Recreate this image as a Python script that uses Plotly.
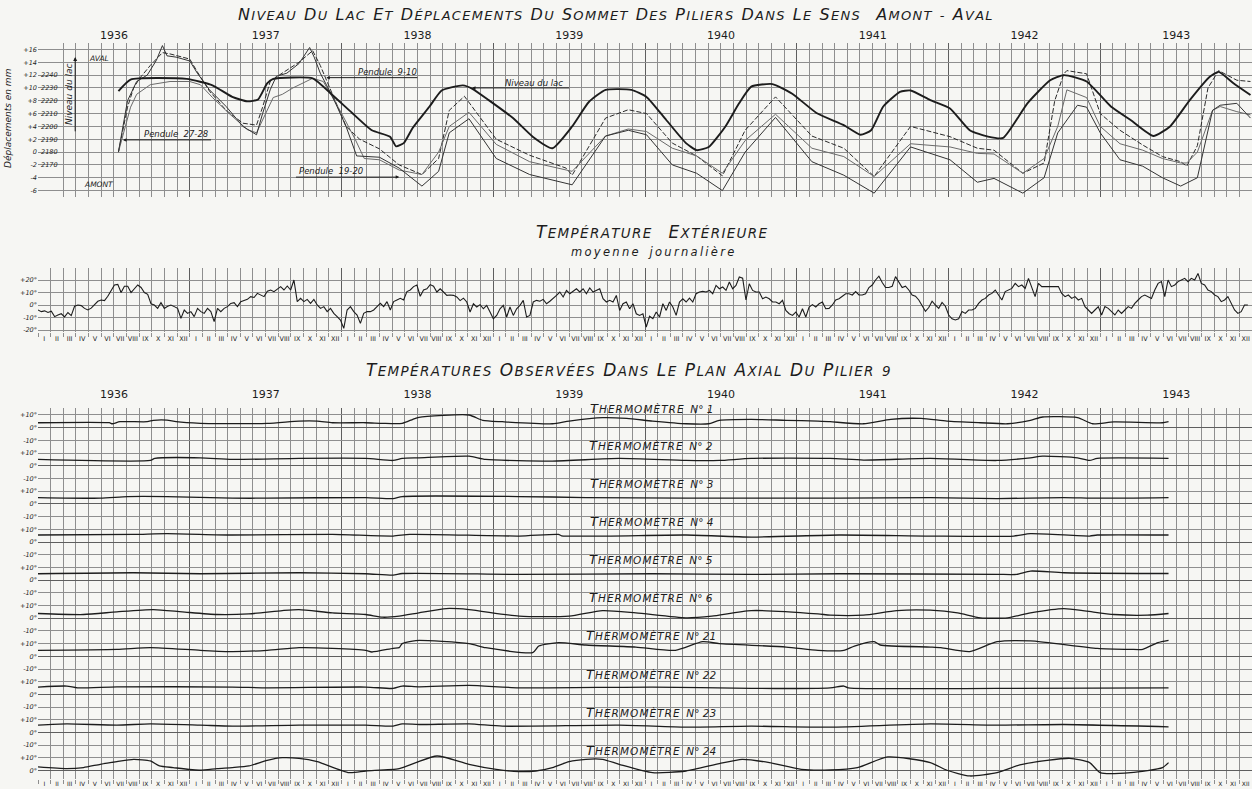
import plotly.graph_objects as go

# ------------------------------------------------------------------ data
YEARS = [1936, 1937, 1938, 1939, 1940, 1941, 1942, 1943]
MONTHS_ROMAN = ["I", "II", "III", "IV", "V", "VI", "VII", "VIII", "IX", "X", "XI", "XII"]

# Lake level (m) - decimal year
LAKE_T = [1936.53, 1936.61, 1936.98, 1937.15, 1937.28, 1937.38, 1937.45, 1937.51, 1937.55, 1937.81,
          1937.94, 1938.07, 1938.20, 1938.32, 1938.36, 1938.41, 1938.47, 1938.58, 1938.66, 1938.80,
          1938.86, 1938.97, 1939.13, 1939.26, 1939.39, 1939.52, 1939.63, 1939.74, 1939.91, 1940.01,
          1940.14, 1940.27, 1940.34, 1940.42, 1940.53, 1940.62, 1940.70, 1940.84, 1940.97, 1941.13,
          1941.31, 1941.42, 1941.49, 1941.57, 1941.68, 1941.75, 1941.88, 1942.01, 1942.14, 1942.26,
          1942.36, 1942.52, 1942.67, 1942.76, 1942.91, 1943.07, 1943.20, 1943.35, 1943.46, 1943.59,
          1943.72, 1943.78, 1943.88, 1943.99]
LAKE_LEVEL = [2227.5, 2236.5, 2237, 2232, 2223, 2219.5, 2221, 2233.5, 2237, 2237.5,
              2224.5, 2210.5, 2197, 2192, 2184.5, 2187, 2199, 2215.5, 2228, 2232,
              2229.5, 2220.5, 2206.5, 2192, 2183, 2200, 2219, 2228.5, 2228.5, 2223,
              2205, 2187, 2181.5, 2184, 2200, 2218, 2231, 2233, 2225.5, 2210.5,
              2201, 2193.5, 2197, 2215.5, 2227, 2228, 2220.5, 2214, 2197, 2192,
              2191, 2218, 2236, 2240, 2235, 2215.5, 2205, 2192.5, 2200, 2220.5,
              2238.5, 2242.5, 2233.5, 2224.5]

# Pendulum displacements (mm)
P910_T = [1936.53, 1936.59, 1936.63, 1936.67, 1936.74, 1936.82, 1936.87, 1937.00, 1937.05, 1937.13,
          1937.24, 1937.35, 1937.44, 1937.48, 1937.53, 1937.59, 1937.72, 1937.81, 1937.86, 1937.94,
          1938.03, 1938.12, 1938.25, 1938.38, 1938.53, 1938.64, 1938.71, 1938.81, 1939.02, 1939.24,
          1939.48, 1939.52, 1939.74, 1939.89, 1940.01, 1940.18, 1940.34, 1940.51, 1940.66, 1940.86,
          1941.10, 1941.31, 1941.51, 1941.75, 1942.01, 1942.19, 1942.30, 1942.49, 1942.63, 1942.70,
          1942.76, 1942.78, 1942.91, 1943.00, 1943.13, 1943.28, 1943.41, 1943.53, 1943.57, 1943.64,
          1943.71, 1943.78, 1943.90, 1943.99]
P910_MM = [0, 7, 10, 11.5, 13.5, 15.5, 15.3, 14.5, 12.5, 9.5,
           6.5, 4.5, 4.2, 7, 11, 12, 14, 15.8, 13.5, 9,
           4, 2, 0.5, -2, -3.5, -1, 6.5, 8.7, 2.0, -0.5,
           -2.5, -3.6, 5.3, 6.6, 6.0, 1.4, -0.6, -3.7, 3.4, 8.6,
           2.5, 0.6, -3.8, 4.0, 2.4, 0.6, 0.3, -3.3, -1.7, 8,
           12.2, 12.7, 12.2, 6, 3.4, 1.1, -0.7, -1.5, -2.2, 1,
           10, 12.7, 11.2, 11]

P2728_T = [1936.53, 1936.61, 1936.65, 1936.74, 1936.87, 1937.00, 1937.07, 1937.15, 1937.26, 1937.38,
           1937.44, 1937.48, 1937.55, 1937.61, 1937.68, 1937.81, 1937.88, 1937.99, 1938.09, 1938.15,
           1938.25, 1938.38, 1938.53, 1938.64, 1938.71, 1938.84, 1939.02, 1939.24, 1939.52, 1939.74,
           1939.89, 1940.01, 1940.18, 1940.34, 1940.51, 1940.66, 1940.86, 1941.10, 1941.31, 1941.51,
           1941.75, 1942.01, 1942.19, 1942.30, 1942.49, 1942.63, 1942.72, 1942.78, 1942.91, 1943.00,
           1943.13, 1943.28, 1943.41, 1943.53, 1943.57, 1943.64, 1943.74, 1943.79, 1943.90, 1943.99]
P2728_MM = [0, 7, 9, 10.5, 11, 11, 10.5, 8.5, 6, 3.5,
            3, 5, 8.5, 9, 10, 11.5, 11, 6.5, 2, -1,
            -1.2, -2.8, -3.5, 0, 4, 6.2, 1.2, -1.5, -3.0, 2.5,
            3.6, 3.2, 0.6, -0.6, -3.3, 1.8, 5.9, 0.6, -0.7, -3.8,
            1.3, 0.8, -0.2, -0.3, -3.3, -1, 4, 9.7, 8.5, 4,
            1.3, 0.3, -1, -1.7, -1.7, 0, 6.5, 7.1, 6.3, 5.8]

P1920_T = [1936.53, 1936.59, 1936.65, 1936.72, 1936.78, 1936.82, 1936.85, 1936.91, 1937.00, 1937.05,
           1937.13, 1937.24, 1937.35, 1937.44, 1937.48, 1937.53, 1937.57, 1937.64, 1937.72, 1937.79,
           1937.82, 1937.86, 1937.94, 1938.03, 1938.10, 1938.25, 1938.38, 1938.53, 1938.64, 1938.71,
           1938.84, 1939.02, 1939.24, 1939.52, 1939.74, 1939.89, 1940.01, 1940.18, 1940.34, 1940.51,
           1940.66, 1940.86, 1941.10, 1941.31, 1941.51, 1941.75, 1942.01, 1942.19, 1942.30, 1942.49,
           1942.63, 1942.72, 1942.85, 1942.91, 1943.00, 1943.13, 1943.28, 1943.41, 1943.53, 1943.64,
           1943.74, 1943.79, 1943.90, 1943.99]
P1920_MM = [0, 8, 11, 12, 14.3, 16.6, 15, 14.8, 14.2, 12.3,
            9.7, 7.1, 4, 2.7, 6, 9.7, 11.8, 12.3, 13.8, 16.3,
            14.8, 12.3, 8.7, 4, -0.6, -0.8, -2.5, -5.3, -3, 3,
            5.2, -1, -3.5, -5.1, 2.5, 3.4, 2.7, -2, -3.3, -6.0,
            0, 5.4, -1.5, -3.6, -6.4, 0.8, -1.2, -4.7, -4.1, -6.4,
            -4, 3, 7.3, 7.0, 3, -1.2, -2.2, -4, -5.3, -4,
            6.5, 7.3, 7.6, 5.3]

# Outside temperature, one reading every 8 days from 1 Jan 1936 (deg C)
TEMP_START = 1936.0
TEMP_STEP_DAYS = 8
TEMP_EXT = [
    -4, -5.3, -4.7, -6, -5, -9.3, -8, -7, -9.5, -6,
    -8.5, -1, 0, -0.5, -2.7, -4, -2.5, 0, 3, 4,
    3.5, 7, 12, 16, 16.5, 10, 15, 15, 10, 13,
    16, 14, 10, 8.5, 1, 0, -2.7, 1.9, -2.7, -1,
    0, -1.3, -2.7, -10.7, -4, -6.7, -5.3, -9.3, -2.7, -5.3,
    -6.7, -2.7, -5.3, -13.3, -2.7, -5.3, -2.7, -1.3, 1.3, 1.9,
    -1.3, 2.7, 3.5, 4.5, 6.7, 6, 9.3, 8, 6.7, 11,
    12, 10.7, 12.5, 14.7, 12, 15.2, 12, 20, 2.7, 5.3,
    2.7, 4.5, 1.3, 4.5, 0, -2.7, -1.3, -5.3, -2.7, -6.7,
    -9.3, -12, -18.7, -4, -1.3, -5.3, -8, -14.7, -6.7, -5.3,
    -5.3, -4, -1.3, 1.3, -1.3, 2.7, -4, 2.7, 4, 5.3,
    4, 10.7, 12, 14.7, 16,
    7, 12, 13, 16.3, 15, 10.4, 13, 10.4, 7.7, 8,
    7.7, 6.4, 3.5, 5.5, 2.4, -5.6, 1, -1.6, 0.3, -3,
    -0.3, -5.6, -11, -8.3, -3, -0.3, -9.6, -1.6, -8.3, -3,
    -0.3, 3.7, -9.6, -8.3, 2.4, 3.7, 3, 4.5, 1, 3,
    5, 7.7, 10.4, 6.4, 11.7, 9, 11, 13, 10.4, 13,
    9, 13.6, 10.4, 11.7, 13, 5, 2.4, 3.7, 2.4, 7.7,
    -4.3, 1, 2.4, -3, 1, -7, -8.3, -7, -17.6, -9,
    -11, -5.6, -9.6, 1, -4.3, 2.4, -1.6, -8.3, 2.4, 5,
    2.4, 5.5, 2.4, 9, 10.4, 11, 10.4, 11.7, 9, 15.7,
    13, 14.4, 11.7, 18.4, 13, 15.7, 22.4, 21.5, 4, 17,
    11.7, 10.4, 10.4, 5, 6.4, 5, 2.4, 2.4, 1, 3.7,
    -4.3, -7, -8.3, -5.6, -9.6, -3, -9.6, -1.6, 0.3, -1.6,
    1, 2.4, -3,
    -2.7, 0, 4, 5, 7, 9, 9, 8, 10.7, 8,
    8, 9, 14, 16, 20, 23, 18, 14, 14, 15,
    22.7, 18, 14, 15, 12, 8, 7, 4, 0, -5,
    -2, 3, 0, -2.7, 2, -1, -8, -11, -12, -11,
    -5.3, -6.7, -4, -4, -2.7, 1.3, 4, 5.3, 8, 9.3,
    12, 8, 4, 10.7, 12, 13.3, 17.3, 14.7, 16, 13.3,
    21.3, 14.7, 6.7, 17.3, 14.7, 14.7, 14.7, 14.7, 14.7, 14.7,
    9.3, 6.7, 8, 5.3, 6.7, 4, 5.3, -1.3, -4, -6.7,
    -4, -1.3, -8, -1.3, -2.7, -5.3, -8, -4, -6.7, -4,
    -1.3, -2.7, 1.3, 4, 6.7, 8, 6.7, 5.3, 12, 17.3,
    18.7, 6.7, 20, 14.7, 16, 18.7, 20, 21.3, 18.7, 21.3,
    20, 25.3, 17.3, 16, 12, 10.7, 8, 6.7, 2.7, 4,
    6.7, 1.3, -4, -6.7, -5.3, 0, 0,
]

# Temperatures in the axial plane of pier 9 (deg C)
THERMO_NAMES = ["1", "2", "3", "4", "5", "6", "21", "22", "23", "24"]
TH1_T = [1936.00, 1936.47, 1936.49, 1936.54, 1936.72, 1936.76, 1936.85, 1936.91, 1937.07, 1937.51,
         1937.72, 1937.84, 1937.94, 1938.16, 1938.27, 1938.40, 1938.47, 1938.51, 1938.84, 1938.93,
         1939.06, 1939.39, 1939.50, 1939.72, 1939.88, 1940.05, 1940.27, 1940.42, 1940.49, 1940.70,
         1940.93, 1941.14, 1941.22, 1941.44, 1941.62, 1941.82, 1941.99, 1942.21, 1942.39, 1942.54,
         1942.62, 1942.85, 1942.95, 1943.09, 1943.41, 1943.45]
TH1_C = [3.9, 3.9, 3.1, 4.7, 4.7, 5.8, 6.0, 4.7, 3.4, 3.4,
         5.2, 5.2, 3.9, 3.9, 3.4, 3.4, 6.6, 8.2, 10.0, 5.8,
         4.7, 3.1, 5.2, 7.9, 7.3, 5.2, 3.1, 3.1, 5.8, 6.6,
         5.8, 5.2, 4.7, 3.1, 6.6, 7.3, 5.2, 3.9, 3.1, 5.8,
         8.4, 7.9, 3.1, 4.5, 3.9, 4.7]
TH2_T = [1936.00, 1936.74, 1936.77, 1937.07, 1937.28, 1937.72, 1938.16, 1938.34, 1938.40, 1938.51,
         1938.84, 1938.95, 1939.39, 1939.83, 1940.27, 1940.49, 1940.70, 1941.22, 1941.44, 1941.88,
         1942.32, 1942.54, 1942.62, 1942.85, 1942.93, 1942.98, 1943.45]
TH2_C = [5.0, 4.2, 5.8, 6.3, 5.0, 5.8, 5.8, 4.2, 5.8, 6.3,
         7.6, 5.0, 3.7, 5.8, 4.2, 4.2, 5.8, 5.8, 4.5, 5.8,
         4.2, 6.3, 7.6, 6.3, 4.2, 5.8, 5.8]
TH3_T = [1936.00, 1936.41, 1936.59, 1936.85, 1937.28, 1937.51, 1938.16, 1938.34, 1938.40, 1939.17,
         1939.61, 1940.27, 1940.70, 1941.28, 1941.88, 1942.32, 1942.76, 1942.98, 1943.45]
TH3_C = [5.0, 4.5, 5.8, 5.8, 4.5, 4.5, 5.0, 4.2, 5.8, 5.8,
         5.0, 4.5, 4.5, 4.5, 5.0, 4.2, 5.0, 4.5, 5.0]
TH4_T = [1936.00, 1936.63, 1936.85, 1937.28, 1937.94, 1938.34, 1938.45, 1939.17, 1939.43, 1939.45,
         1940.27, 1940.70, 1941.28, 1941.88, 1942.43, 1942.54, 1942.93, 1942.98, 1943.45]
TH4_C = [5.5, 6.0, 6.6, 5.5, 6.0, 4.7, 6.0, 4.7, 6.0, 4.9,
         5.5, 3.9, 5.5, 4.7, 4.7, 6.6, 4.7, 5.5, 5.5]
TH5_T = [1936.00, 1936.63, 1937.07, 1937.72, 1938.16, 1938.34, 1938.40, 1939.17, 1940.05, 1940.70,
         1941.28, 1942.32, 1942.45, 1942.54, 1942.76, 1943.45]
TH5_C = [5.0, 5.8, 5.0, 5.8, 5.0, 3.9, 5.2, 4.5, 5.0, 4.5,
         5.0, 4.5, 4.5, 7.1, 5.8, 5.2]
TH6_T = [1936.00, 1936.30, 1936.52, 1936.76, 1936.95, 1937.18, 1937.39, 1937.61, 1937.72, 1937.94,
         1938.16, 1938.27, 1938.38, 1938.51, 1938.69, 1938.84, 1939.17, 1939.50, 1939.72, 1939.94,
         1940.27, 1940.44, 1940.70, 1941.14, 1941.22, 1941.44, 1941.66, 1941.88, 1942.06, 1942.21,
         1942.39, 1942.54, 1942.76, 1942.91, 1943.09, 1943.31, 1943.45]
TH6_C = [3.7, 2.9, 5.0, 6.8, 5.0, 2.9, 3.4, 6.0, 6.8, 4.2,
         2.9, 0.8, 1.6, 4.2, 7.6, 6.8, 1.6, 1.6, 6.0, 4.2,
         0.3, 1.6, 6.0, 3.4, 2.4, 2.4, 6.0, 6.3, 4.2, 0.3,
         0.3, 4.2, 7.6, 5.5, 2.9, 2.4, 3.7]
TH21_T = [1936.00, 1936.52, 1936.74, 1937.07, 1937.28, 1937.51, 1937.72, 1937.94, 1938.16, 1938.20,
          1938.34, 1938.38, 1938.40, 1938.49, 1938.84, 1938.95, 1939.26, 1939.30, 1939.43, 1939.61,
          1939.94, 1940.20, 1940.38, 1940.49, 1940.93, 1941.14, 1941.31, 1941.38, 1941.51, 1941.55,
          1941.88, 1941.95, 1942.14, 1942.32, 1942.54, 1942.98, 1943.20, 1943.28, 1943.38, 1943.45]
TH21_C = [4.7, 5.5, 6.8, 4.7, 3.7, 4.7, 6.8, 6.3, 4.7, 3.4,
          6.3, 6.8, 10.0, 12.4, 10.0, 6.8, 2.9, 8.1, 10.8, 8.9,
          7.3, 4.7, 11.5, 10.0, 7.3, 4.7, 4.7, 8.1, 11.5, 8.9,
          7.3, 6.8, 3.7, 11.5, 12.1, 6.3, 5.5, 5.5, 10.8, 12.6]
TH22_T = [1936.00, 1936.19, 1936.26, 1936.52, 1937.28, 1937.51, 1938.16, 1938.34, 1938.40, 1938.51,
          1938.84, 1939.17, 1940.05, 1940.70, 1941.22, 1941.31, 1941.34, 1942.32, 1943.45]
TH22_C = [5.8, 6.6, 5.2, 6.0, 5.8, 5.2, 5.8, 4.7, 6.6, 6.0,
          7.1, 5.2, 5.8, 4.7, 5.2, 6.6, 5.2, 4.7, 5.2]
TH23_T = [1936.00, 1936.19, 1936.52, 1936.74, 1937.07, 1937.28, 1937.72, 1938.16, 1938.34, 1938.40,
          1938.51, 1938.84, 1939.06, 1939.83, 1940.27, 1940.70, 1941.22, 1941.88, 1942.32, 1942.76,
          1943.45]
TH23_C = [5.8, 6.8, 5.8, 6.8, 5.8, 5.0, 5.8, 5.8, 5.0, 6.8,
          6.3, 6.8, 5.0, 5.8, 4.2, 5.0, 4.2, 6.8, 5.8, 6.3,
          4.5]
TH24_T = [1936.00, 1936.19, 1936.30, 1936.41, 1936.52, 1936.63, 1936.74, 1936.80, 1936.89, 1937.07,
          1937.18, 1937.28, 1937.39, 1937.51, 1937.61, 1937.72, 1937.84, 1938.05, 1938.16, 1938.38,
          1938.49, 1938.63, 1938.84, 1939.02, 1939.17, 1939.28, 1939.39, 1939.50, 1939.61, 1939.72,
          1939.83, 1940.05, 1940.27, 1940.49, 1940.64, 1940.82, 1941.03, 1941.22, 1941.40, 1941.60,
          1941.88, 1941.99, 1942.14, 1942.32, 1942.47, 1942.65, 1942.80, 1942.93, 1943.00, 1943.20,
          1943.41, 1943.45]
TH24_C = [2.9, 1.6, 2.4, 5.0, 7.1, 8.9, 7.6, 3.7, 2.4, 0.3,
          1.6, 2.4, 3.7, 8.1, 10.2, 9.7, 7.1, -1.6, -0.3, 1.6,
          6.3, 11.5, 5.0, 1.0, -0.8, -0.3, 2.4, 7.1, 8.9, 8.9,
          5.0, -1.6, -0.3, 5.5, 8.9, 6.3, 1.0, 0.5, 2.4, 10.8,
          6.3, 0.3, -4.2, -1.6, 4.5, 8.1, 9.7, 6.3, -1.6, -1.6,
          2.4, 6.3]
THERMO_T = [TH1_T, TH2_T, TH3_T, TH4_T, TH5_T, TH6_T, TH21_T, TH22_T, TH23_T, TH24_T]
THERMO_C = [TH1_C, TH2_C, TH3_C, TH4_C, TH5_C, TH6_C, TH21_C, TH22_C, TH23_C, TH24_C]

# ------------------------------------------------------------------ style / layout helpers
W, H = 1252, 789
FONT = "DejaVu Sans"
BG = "#f6f6f3"
GRID = "#8e8e8e"
GRID_HEAVY = "#5e5e5e"
INK = "#1c1c1c"
STRIP = 30  # degrees between thermometer strips
HAIR = "\u200a"


def pxx(p):
    return p / W


def pxy(p):
    return 1 - p / H


def spaced(word):
    return HAIR.join(word)


def smallcaps(text, big, gap="\u00a0\u00a0"):
    out = []
    for w in text.split(" "):
        if w and w[0].isalpha():
            out.append(f"<span style='font-size:{big}px'>{w[0]}</span>{HAIR}{spaced(w[1:])}")
        else:
            out.append(spaced(w))
    return gap.join(out)


X_DOM = [pxx(38), 1.0]
TOP_DOM = [pxy(197), pxy(43)]
MID_DOM = [pxy(332), pxy(267.5)]
BOT_DOM = [pxy(779), pxy(408)]
X_RANGE = [1936, 1944]
BOT_RANGE = [-276.6, 15.5]

year_bounds = list(range(1936, 1945))
month_bounds = [1936 + m / 12 for m in range(97)]
month_mid = [1936 + (m + 0.5) / 12 for m in range(96)]
month_text = MONTHS_ROMAN * 8
year_mid = [y + 0.5 for y in YEARS]
year_text = [str(y) for y in YEARS]

tick_font = dict(family=FONT, size=6.5, color=INK, style="italic")

fig = go.Figure()

# ---- top panel: displacements + lake level
fig.add_trace(go.Scatter(x=LAKE_T, y=LAKE_LEVEL, xaxis="x", yaxis="y2", mode="lines",
                         line=dict(color=INK, width=1.9, shape="spline", smoothing=0.5),
                         name="Niveau du lac", hoverinfo="skip"))
fig.add_trace(go.Scatter(x=P910_T, y=P910_MM, xaxis="x", yaxis="y", mode="lines",
                         line=dict(color="#2a2a2a", width=1.0, dash="5px,2px"),
                         name="Pendule 9-10", hoverinfo="skip"))
fig.add_trace(go.Scatter(x=P2728_T, y=P2728_MM, xaxis="x", yaxis="y", mode="lines",
                         line=dict(color="#6a6a6a", width=1.0),
                         name="Pendule 27-28", hoverinfo="skip"))
fig.add_trace(go.Scatter(x=P1920_T, y=P1920_MM, xaxis="x", yaxis="y", mode="lines",
                         line=dict(color="#333333", width=1.0),
                         name="Pendule 19-20", hoverinfo="skip"))

# ---- middle panel: outside temperature
temp_t = [TEMP_START + k * TEMP_STEP_DAYS / 365.25 for k in range(len(TEMP_EXT))]
fig.add_trace(go.Scatter(x=temp_t, y=TEMP_EXT, xaxis="x2", yaxis="y3", mode="lines",
                         line=dict(color=INK, width=1.1), name="Température extérieure",
                         hoverinfo="skip"))

# ---- bottom panel: thermometers (each strip offset by STRIP degrees)
for i, (tt, cc) in enumerate(zip(THERMO_T, THERMO_C)):
    fig.add_trace(go.Scatter(x=tt, y=[c - STRIP * i for c in cc], xaxis="x3", yaxis="y4",
                             mode="lines", line=dict(color=INK, width=1.3, shape="spline",
                                                     smoothing=0.6),
                             name="Thermomètre n° " + THERMO_NAMES[i], hoverinfo="skip"))

# empty traces so that every overlay axis gets drawn
for xa, ya in [("x4", "y"), ("x5", "y3"), ("x6", "y4"), ("x7", "y4"), ("x3", "y5")]:
    fig.add_trace(go.Scatter(x=[1936.0], y=[None], xaxis=xa, yaxis=ya, mode="lines",
                             showlegend=False, hoverinfo="skip"))

base_x = dict(range=X_RANGE, domain=X_DOM, showline=False, zeroline=False, fixedrange=True,
              automargin=False)


def grid_x(anchor, minor_ticks=""):
    return dict(**base_x, anchor=anchor, tickmode="array", tickvals=year_bounds,
                showticklabels=False, ticks="", showgrid=True, gridcolor=GRID_HEAVY,
                gridwidth=1.2,
                minor=dict(tickmode="array", tickvals=month_bounds, showgrid=True,
                           gridcolor=GRID, gridwidth=0.8, ticks=minor_ticks, ticklen=4,
                           tickcolor=GRID))


def label_x(over, anchor, side, vals, text, size, standoff=None):
    d = dict(**base_x, overlaying=over, anchor=anchor, side=side, tickmode="array",
             tickvals=vals, ticktext=text, ticks="", showgrid=False,
             tickfont=dict(family=FONT, size=size, color=INK))
    if standoff is not None:
        d["ticklabelstandoff"] = standoff
    return d


# bottom strip ticks
bot_vals, bot_text, bot_zero = [], [], []
for i in range(len(THERMO_NAMES)):
    for v, lab in [(10, "+10°"), (0, "0°"), (-10, "-10°")]:
        bot_vals.append(v - STRIP * i)
        bot_text.append(lab)
    bot_zero.append(-STRIP * i)

top_vals = list(range(-6, 17, 2))
top_text = [("+" + str(v)) if v > 0 else str(v) for v in top_vals]

base_y = dict(zeroline=False, showline=False, ticks="", fixedrange=True, automargin=False)

fig.update_layout(
    template="none",
    width=W, height=H, autosize=False,
    margin=dict(l=0, r=0, t=0, b=0, pad=0),
    paper_bgcolor=BG, plot_bgcolor=BG,
    showlegend=False,
    font=dict(family=FONT, color=INK),
    xaxis=grid_x("y"),
    xaxis4=label_x("x", "y", "top", year_mid, year_text, 11, standoff=1),
    yaxis=dict(**base_y, domain=TOP_DOM, anchor="x", range=[-7, 17], tickmode="array",
               tickvals=top_vals, ticktext=top_text, showgrid=True, gridcolor=GRID,
               gridwidth=0.8, tickfont=tick_font),
    yaxis2=dict(**base_y, overlaying="y", anchor="x", side="left", range=[2145, 2265],
                tickmode="array", tickvals=list(range(2170, 2241, 10)),
                ticklabelposition="inside", showgrid=False, tickfont=tick_font),
    xaxis2=grid_x("y3", "outside"),
    xaxis5=label_x("x2", "y3", "bottom", month_mid, month_text, 6.5, standoff=1),
    yaxis3=dict(**base_y, domain=MID_DOM, anchor="x2", range=[-21.6, 30], tickmode="array",
                tickvals=[-20, -10, 0, 10, 20],
                ticktext=["-20°", "-10°", "0°", "+10°", "+20°"],
                showgrid=True, gridcolor=GRID, gridwidth=0.9, tickfont=tick_font),
    xaxis3=grid_x("y4", "outside"),
    xaxis6=label_x("x3", "y4", "bottom", month_mid, month_text, 6, standoff=0),
    xaxis7=label_x("x3", "y4", "top", year_mid, year_text, 11, standoff=7),
    yaxis4=dict(**base_y, domain=BOT_DOM, anchor="x3", range=BOT_RANGE, tickmode="array",
                tickvals=bot_vals, ticktext=bot_text, showgrid=True, gridcolor=GRID,
                gridwidth=0.8, tickfont=tick_font),
    yaxis5=dict(**base_y, overlaying="y4", anchor="x3", range=BOT_RANGE, tickmode="array",
                tickvals=bot_zero, showticklabels=False, showgrid=True,
                gridcolor=GRID_HEAVY, gridwidth=1.2),
)

# ------------------------------------------------------------------ text
ann = []


def it(s):
    return dict(family=FONT, size=s, color=INK, style="italic")


def note(**kw):
    d = dict(showarrow=False, xanchor="center", yanchor="middle")
    d.update(kw)
    ann.append(d)


note(xref="paper", yref="paper", x=pxx(615), y=pxy(14),
     text=smallcaps("NIVEAU DU LAC ET DÉPLACEMENTS DU SOMMET DES PILIERS DANS LE SENS  AMONT - AVAL", 16),
     font=it(13))
note(xref="paper", yref="paper", x=pxx(652), y=pxy(232),
     text=smallcaps("TEMPÉRATURE EXTÉRIEURE", 17, gap="\u00a0\u00a0\u00a0\u00a0"), font=it(13.5))
note(xref="paper", yref="paper", x=pxx(652), y=pxy(252),
     text="\u2009".join("moyenne") + "\u00a0\u00a0\u00a0" + "\u2009".join("journalière"),
     font=it(11.5))
note(xref="paper", yref="paper", x=pxx(628), y=pxy(370),
     text=smallcaps("TEMPÉRATURES OBSERVÉES DANS LE PLAN AXIAL DU PILIER 9", 17), font=it(13.5))

# left-hand titles of the top panel
note(xref="paper", yref="paper", x=pxx(8), y=pxy(118), text="Déplacements en mm",
     textangle=-90, font=it(9))
note(xref="paper", yref="paper", x=pxx(69), y=pxy(95), text="Niveau du lac",
     textangle=-90, font=it(9))
note(xref="x", yref="y", x=1936.245, y=14.8, ax=1936.245, ay=3.0, axref="x", ayref="y",
     text="", showarrow=True, arrowhead=2, arrowsize=0.8, arrowwidth=1, arrowcolor=INK)
note(xref="x", yref="y", x=1936.40, y=14.6, text="AVAL", font=it(7.5))
note(xref="x", yref="y", x=1936.40, y=-5.1, text="AMONT", font=it(7.5))

# curve labels with leader lines
labels = [
    ("Pendule  9-10", 1938.30, 12.5, 1937.90, 1938.51, 11.6),
    ("Pendule  27-28", 1936.91, 2.8, 1936.56, 1937.15, 1.9),
    ("Pendule  19-20", 1937.93, -3.0, 1938.38, 1937.69, -3.9),
    ("Niveau du lac", 1939.27, 10.8, 1938.86, 1939.51, 10.0),
]
for txt, tx, ty, head, tail, ly in labels:
    note(xref="x", yref="y", x=tx, y=ty, text=txt, font=it(8.5))
    note(xref="x", yref="y", x=head, y=ly, ax=tail, ay=ly, axref="x", ayref="y",
         text="", showarrow=True, arrowhead=2, arrowsize=0.7, arrowwidth=1, arrowcolor=INK)

# thermometer captions
for i, name in enumerate(THERMO_NAMES):
    ycap = 16.0 - STRIP * i if i > 0 else 14.8
    note(xref="x3", yref="y4", x=1940.04, y=ycap,
         text=f"<span style='font-size:13px'>T</span>{HAIR}{spaced('HERMOMÈTRE')}"
              f"\u00a0\u00a0N°\u00a0{name}",
         font=it(10.5))

fig.update_layout(annotations=ann)

fig.write_html("out.html", config={"displayModeBar": False},
               post_script="document.body.style.margin='0px';")
